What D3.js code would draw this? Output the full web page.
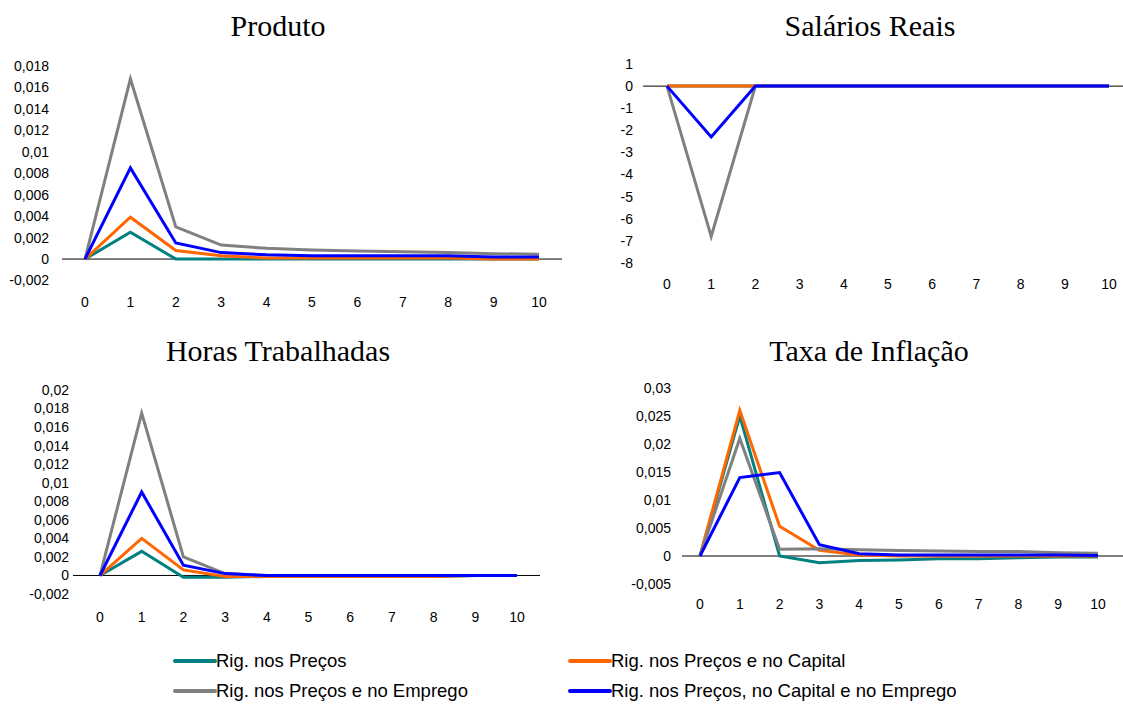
<!DOCTYPE html>
<html>
<head>
<meta charset="utf-8">
<script src="https://cdn.jsdelivr.net/npm/d3@7"></script>
<style>
  body { margin: 0; background: #fff; }
  svg { display: block; }
  .title { font-family: "Liberation Serif", "Times New Roman", serif; font-size: 30px; fill: #000; }
  .tick-label { font-family: "Liberation Sans", Arial, sans-serif; font-size: 14px; fill: #000; }
  .legend-label { font-family: "Liberation Sans", Arial, sans-serif; font-size: 18.5px; fill: #000; }
</style>
</head>
<body>
<div id="chart"></div>
<script>
// periods
const periods = [0, 1, 2, 3, 4, 5, 6, 7, 8, 9, 10];

// series names and colours (legend order)
const seriesNames = [
  "Rig. nos Preços",
  "Rig. nos Preços e no Capital",
  "Rig. nos Preços e no Emprego",
  "Rig. nos Preços, no Capital e no Emprego"
];
const seriesColors = ["#008080", "#FF6600", "#808080", "#0000FF"];

// Produto
const produtoPrecos      = [0, 0.0025, 0, 0, 0, 0, 0, 0, 0, 0, 0];
const produtoCapital     = [0, 0.0039, 0.0008, 0.0003, 0.0001, 0.0001, 0.0001, 0.0001, 0.0001, 0, 0];
const produtoEmprego     = [0, 0.0168, 0.003, 0.0013, 0.001, 0.00085, 0.00075, 0.00068, 0.0006, 0.0005, 0.00045];
const produtoTodos       = [0, 0.0085, 0.0015, 0.0006, 0.0004, 0.0003, 0.0003, 0.0003, 0.0003, 0.0002, 0.0002];
const produtoTicks       = [-0.002, 0, 0.002, 0.004, 0.006, 0.008, 0.01, 0.012, 0.014, 0.016, 0.018];

// Salários Reais
const salariosPrecos     = [0, 0, 0, 0, 0, 0, 0, 0, 0, 0, 0];
const salariosCapital    = [0, 0, 0, 0, 0, 0, 0, 0, 0, 0, 0];
const salariosEmprego    = [0, -6.8, 0, 0, 0, 0, 0, 0, 0, 0, 0];
const salariosTodos      = [0, -2.3, 0, 0, 0, 0, 0, 0, 0, 0, 0];
const salariosTicks      = [-8, -7, -6, -5, -4, -3, -2, -1, 0, 1];

// Horas Trabalhadas
const horasPrecos        = [0, 0.0026, -0.0002, -0.0002, -0.0001, -0.0001, -0.0001, -0.0001, -0.0001, 0, 0];
const horasCapital       = [0, 0.004, 0.0006, -0.0001, -0.0001, -0.0001, -0.0001, -0.0001, -0.0001, 0, 0];
const horasEmprego       = [0, 0.0175, 0.002, 0.0002, 0, 0, 0, 0, 0, 0, 0];
const horasTodos         = [0, 0.009, 0.0011, 0.0002, 0, 0, 0, 0, 0, 0, 0];
const horasTicks         = [-0.002, 0, 0.002, 0.004, 0.006, 0.008, 0.01, 0.012, 0.014, 0.016, 0.018, 0.02];

// Taxa de Inflação
const inflacaoPrecos     = [0, 0.025, 0, -0.0012, -0.0008, -0.0007, -0.0005, -0.0005, -0.0003, -0.0002, -0.0002];
const inflacaoCapital    = [0, 0.026, 0.0053, 0.001, 0.0002, 0, 0, 0, 0, 0, 0];
const inflacaoEmprego    = [0, 0.021, 0.0012, 0.0013, 0.0011, 0.001, 0.0009, 0.0008, 0.0008, 0.0006, 0.0005];
const inflacaoTodos      = [0, 0.014, 0.0149, 0.002, 0.0004, 0.0002, 0.0002, 0.0002, 0.0002, 0.0002, 0.0001];
const inflacaoTicks      = [-0.005, 0, 0.005, 0.01, 0.015, 0.02, 0.025, 0.03];

const width = 1123, height = 704;

const panels = [
  { title: "Produto", titleX: 278, titleY: 25,
    series: [produtoPrecos, produtoCapital, produtoEmprego, produtoTodos],
    ticks: produtoTicks, domain: [-0.002, 0.018],
    xRange: [85, 539], yRange: [280.5, 66], axisX: [62, 562], labelRight: 49, xLabelY: 307 },
  { title: "Salários Reais", titleX: 870, titleY: 25,
    series: [salariosPrecos, salariosCapital, salariosEmprego, salariosTodos],
    ticks: salariosTicks, domain: [-8, 1],
    xRange: [667, 1109], yRange: [263, 64], axisX: [643, 1123], labelRight: 633, xLabelY: 289 },
  { title: "Horas Trabalhadas", titleX: 278, titleY: 350,
    series: [horasPrecos, horasCapital, horasEmprego, horasTodos],
    ticks: horasTicks, domain: [-0.002, 0.02],
    xRange: [100, 517], yRange: [594, 390], axisX: [73, 540], labelRight: 69, xLabelY: 622 },
  { title: "Taxa de Inflação", titleX: 869, titleY: 350,
    series: [inflacaoPrecos, inflacaoCapital, inflacaoEmprego, inflacaoTodos],
    ticks: inflacaoTicks, domain: [-0.005, 0.03],
    xRange: [700, 1098], yRange: [584, 388], axisX: [682, 1123], labelRight: 671, xLabelY: 609 }
];

const locale = d3.formatLocale({ decimal: ",", thousands: ".", grouping: [3], currency: ["", ""], minus: "-" });
const fmt = locale.format("~g");

const svg = d3.select("#chart").append("svg")
  .attr("width", width)
  .attr("height", height);

panels.forEach(p => {
  const g = svg.append("g");

  const x = d3.scaleLinear().domain([0, 10]).range(p.xRange);
  const y = d3.scaleLinear().domain(p.domain).range(p.yRange);

  // title
  g.append("text")
    .attr("class", "title")
    .attr("x", p.titleX)
    .attr("y", p.titleY)
    .attr("dy", "0.35em")
    .attr("text-anchor", "middle")
    .text(p.title);

  // y tick labels (no axis line in the original)
  g.selectAll(".ylab")
    .data(p.ticks)
    .enter().append("text")
    .attr("class", "tick-label")
    .attr("x", p.labelRight)
    .attr("y", d => y(d))
    .attr("dy", "0.35em")
    .attr("text-anchor", "end")
    .text(d => fmt(d));

  // x tick labels
  g.selectAll(".xlab")
    .data(periods)
    .enter().append("text")
    .attr("class", "tick-label")
    .attr("x", d => x(d))
    .attr("y", p.xLabelY)
    .attr("text-anchor", "middle")
    .text(d => d);

  // zero line
  g.append("line")
    .attr("x1", p.axisX[0])
    .attr("x2", p.axisX[1])
    .attr("y1", y(0))
    .attr("y2", y(0))
    .attr("stroke", "#000")
    .attr("stroke-width", 1);

  const line = d3.line()
    .x((d, i) => x(periods[i]))
    .y(d => y(d));

  p.series.forEach((values, i) => {
    g.append("path")
      .datum(values)
      .attr("fill", "none")
      .attr("stroke", seriesColors[i])
      .attr("stroke-width", 3)
      .attr("stroke-linejoin", "miter")
      .attr("d", line);
  });
});

// legend
const legendPos = [
  { x: 175, y: 661 }, { x: 570, y: 661 },
  { x: 175, y: 691 }, { x: 570, y: 691 }
];
const legend = svg.append("g");
seriesNames.forEach((name, i) => {
  const pos = legendPos[i];
  legend.append("line")
    .attr("x1", pos.x)
    .attr("x2", pos.x + 40)
    .attr("y1", pos.y)
    .attr("y2", pos.y)
    .attr("stroke", seriesColors[i])
    .attr("stroke-width", 4)
    .attr("stroke-linecap", "round");
  legend.append("text")
    .attr("class", "legend-label")
    .attr("x", pos.x + 41)
    .attr("y", pos.y)
    .attr("dy", "0.35em")
    .text(name);
});
</script>
</body>
</html>
